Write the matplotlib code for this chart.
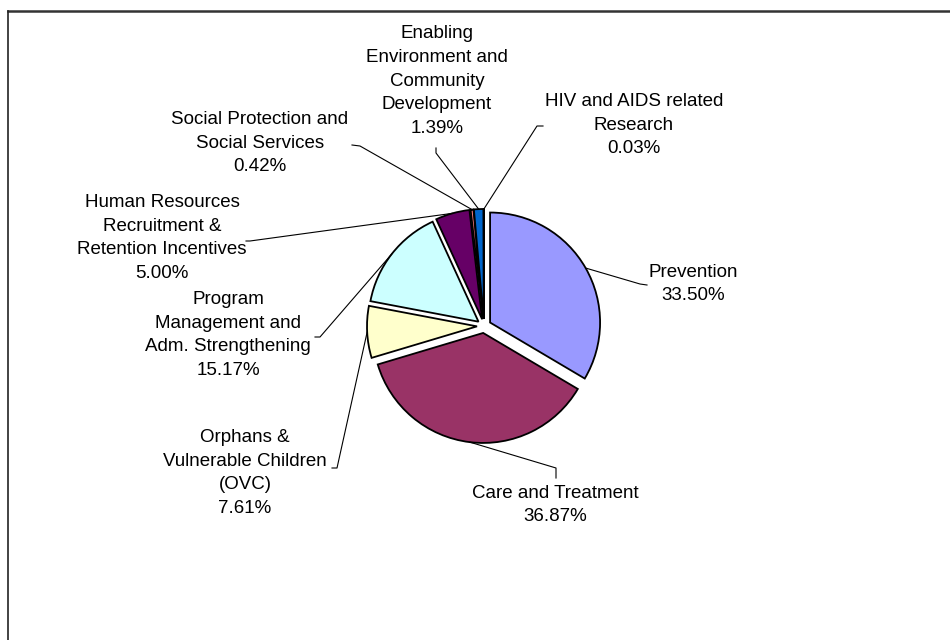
import matplotlib
matplotlib.use("Agg")
import numpy as np
import matplotlib.pyplot as plt
from matplotlib.lines import Line2D

W, H = 950, 640

# data
names = [
    "Prevention",
    "Care and Treatment",
    "Orphans &\nVulnerable Children\n(OVC)",
    "Program\nManagement and\nAdm. Strengthening",
    "Human Resources\nRecruitment &\nRetention Incentives",
    "Social Protection and\nSocial Services",
    "Enabling\nEnvironment and\nCommunity\nDevelopment",
    "HIV and AIDS related\nResearch",
]
shares = [33.50, 36.87, 7.61, 15.17, 5.00, 0.42, 1.39, 0.03]
colors = ["#9999FF", "#993366", "#FFFFCC", "#CCFFFF", "#660066",
          "#FF8080", "#0066CC", "#CCCCFF"]

# layout in pixels (y down from top), label centre and leader elbows
text_xy = [(693, 284), (555, 505), (245, 473), (228, 335),
           (162, 238), (260, 143), (437, 81), (634, 125)]
elbows = [
    [(640, 284), (647, 285)],
    [(556, 468), (556, 478)],
    [(337, 468), (332, 468)],
    [(320, 337), (315, 337)],
    [(250, 241), (246, 241)],
    [(360, 146), (352, 145)],
    [(436, 153), (436, 148)],
    [(537, 126), (543, 126)],
]


def py(y):
    return H - y


plt.rcParams["font.family"] = ["Liberation Sans", "DejaVu Sans"]

fig = plt.figure(figsize=(W / 100, H / 100), dpi=100)
ax = fig.add_axes([0, 0, 1, 1])

# explode is in data units here (pixels), not a fraction of the radius
wedges, _ = ax.pie(
    shares,
    explode=[7] * len(shares),
    colors=colors,
    startangle=90,
    counterclock=False,
    center=(484, py(326)),
    radius=110,
    wedgeprops=dict(edgecolor="black", linewidth=1.3),
)

for w, name, val, (tx, ty), pts in zip(wedges, names, shares, text_xy, elbows):
    mid = np.deg2rad((w.theta1 + w.theta2) / 2)
    cx, cy = w.center
    x0 = cx + w.r * np.cos(mid)
    y0 = cy + w.r * np.sin(mid)
    xs = [x0] + [p[0] for p in pts]
    ys = [y0] + [py(p[1]) for p in pts]
    ax.plot(xs, ys, color="black", lw=0.8)
    ax.text(tx, py(ty), f"{name}\n{val:.2f}%", ha="center", va="center",
            fontsize=13.5, linespacing=1.52, color="black")

ax.set_xlim(0, W)
ax.set_ylim(0, H)
ax.axis("off")

# chart frame
fig.add_artist(Line2D([8 / W, 949 / W], [1 - 11 / H, 1 - 11 / H],
                      transform=fig.transFigure, color="#333333", lw=1.8))
fig.add_artist(Line2D([8 / W, 8 / W], [0, 1 - 11 / H],
                      transform=fig.transFigure, color="#222222", lw=1.2))

fig.savefig("out.png", dpi=100)
